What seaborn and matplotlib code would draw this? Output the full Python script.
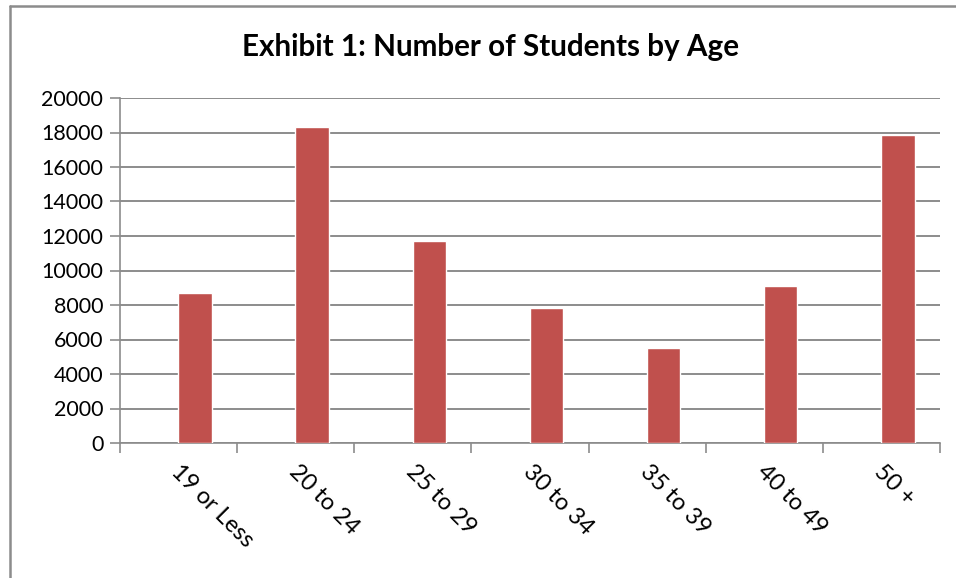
import matplotlib
matplotlib.use("Agg")
import matplotlib.pyplot as plt
import matplotlib.transforms as mtransforms
from matplotlib.lines import Line2D
import seaborn as sns
import pandas as pd

# data
age_groups = ["19 or Less", "20 to 24", "25 to 29", "30 to 34", "35 to 39", "40 to 49", "50 +"]
students = [8720, 18290, 11730, 7850, 5510, 9125, 17880]
y_ticks = list(range(0, 20001, 2000))

df = pd.DataFrame({"age": age_groups, "students": students})

sns.set_theme(style="white")
plt.rcParams["font.family"] = ["Lato", "DejaVu Sans"]

grid_grey = "#8c8c8c"
bar_red = "#C0504D"
# bars sit right of the category centre in the original (excel-style)
off = 0.14

fig = plt.figure(figsize=(9.56, 5.78), dpi=100)
ax = fig.add_axes([120 / 956, 1 - 443 / 578, 820 / 956, 345 / 578])

sns.barplot(data=df, x="age", y="students", color=bar_red, width=0.285,
            saturation=1, ax=ax, zorder=3)

n = len(age_groups)
ax.set_ylim(0, 20000)
ax.set_xlim(-0.5 - off, n - 0.5 - off)
ax.set_yticks(y_ticks)
ax.set_yticklabels([str(v) for v in y_ticks], fontsize=15.5, color="black")
ax.yaxis.grid(True, color=grid_grey, linewidth=1.4, zorder=0)
ax.set_axisbelow(True)
ax.set_xlabel("")
ax.set_ylabel("")

for side in ["top", "right"]:
    ax.spines[side].set_visible(False)
for side in ["left", "bottom"]:
    ax.spines[side].set_color(grid_grey)
    ax.spines[side].set_linewidth(1.2)

ax.tick_params(axis="y", which="major", left=True, length=7, width=1.2,
               color=grid_grey, pad=5)

# x ticks sit between the categories
ax.set_xticks([i - 0.5 - off for i in range(n + 1)], minor=True)
ax.tick_params(axis="x", which="minor", bottom=True, length=7, width=1.2, color=grid_grey)
ax.tick_params(axis="x", which="major", bottom=False, length=0, pad=13)
ax.set_xticks(range(n))
ax.set_xticklabels(age_groups, rotation=-45, ha="left", va="top",
                   rotation_mode="anchor", fontsize=17, color="black")
shift = mtransforms.ScaledTranslation(-12.5 / 100, 0, fig.dpi_scale_trans)
for lbl in ax.get_xticklabels():
    lbl.set_transform(lbl.get_transform() + shift)

fig.text(490 / 956, 1 - 47 / 578, "Exhibit 1: Number of Students by Age",
         ha="center", va="center", fontsize=21.3, fontweight="bold", color="black")

# chart border (left and top edges visible in the crop)
fig.add_artist(Line2D([9.5 / 956, 9.5 / 956], [0, 1 - 5.5 / 578],
                      transform=fig.transFigure, color=grid_grey, linewidth=1.8))
fig.add_artist(Line2D([9.5 / 956, 1], [1 - 5.5 / 578, 1 - 5.5 / 578],
                      transform=fig.transFigure, color=grid_grey, linewidth=1.8))

fig.savefig("out.png", dpi=100, facecolor="white")
